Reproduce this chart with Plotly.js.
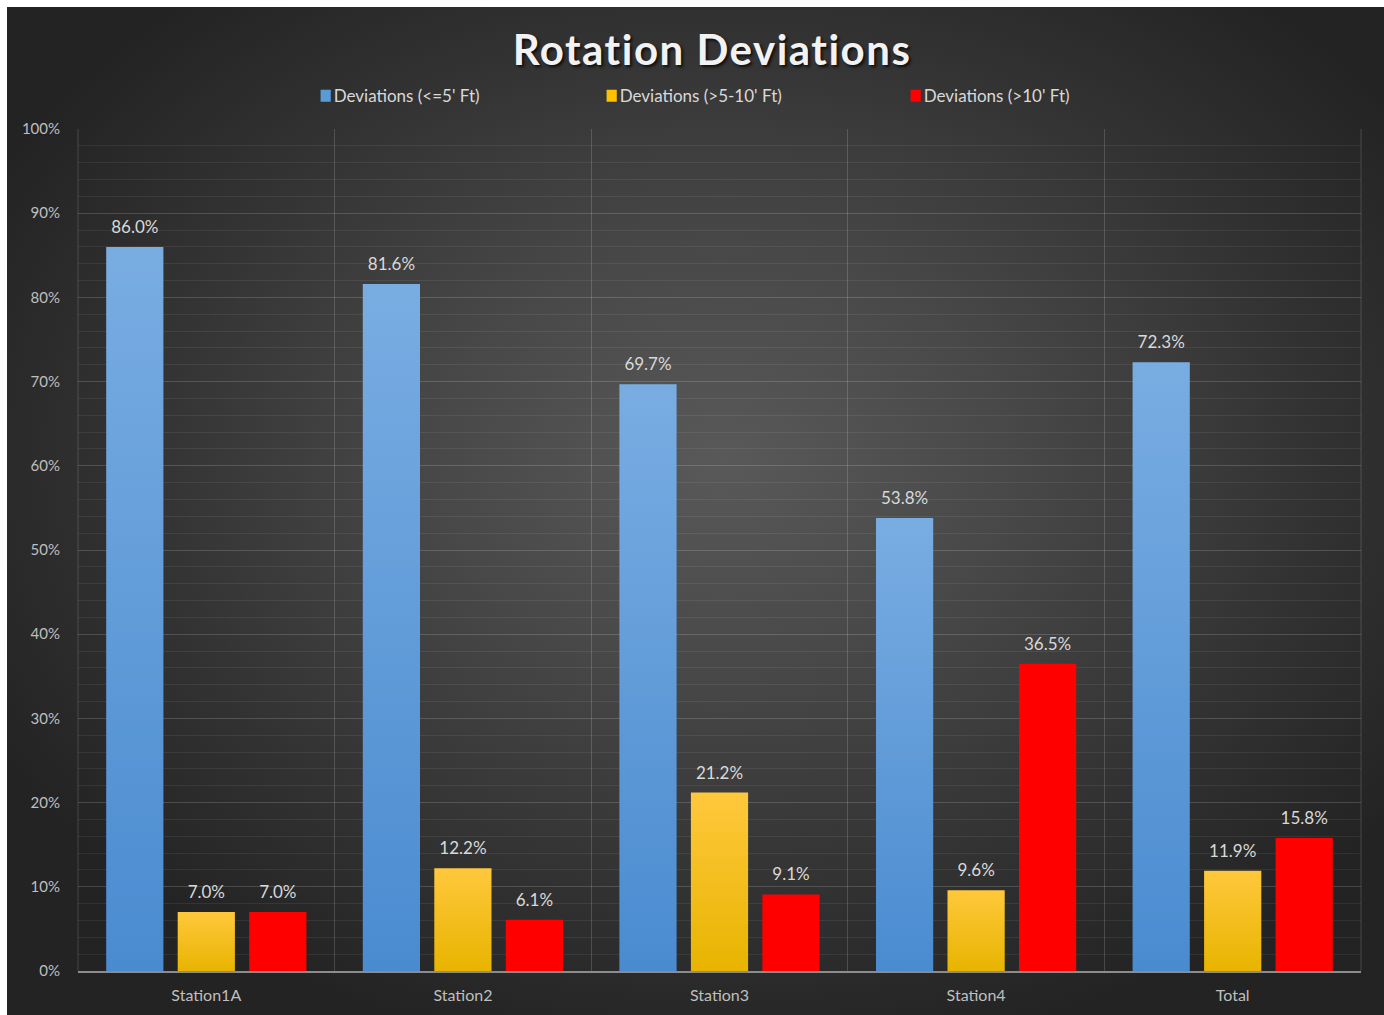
<!DOCTYPE html>
<html>
<head>
<meta charset="utf-8">
<script src="https://cdn.plot.ly/plotly-3.0.1.min.js"></script>
<style>
  html, body { margin: 0; padding: 0; background: #ffffff; }
  #chart {
    position: absolute; left: 7px; top: 7px; width: 1377px; height: 1008px;
    background: radial-gradient(ellipse 60% 60% at 52% 45%, #595959 0%, #484848 35%, #333333 70%, #232323 100%);
  }
  #chart .gtitle {
    text-shadow: 2px 2px 3px rgba(0,0,0,0.75);
    letter-spacing: 1.5px;
    font-variant-ligatures: none;
  }
  #chart text { font-variant-ligatures: none; }
</style>
</head>
<body>
<div id="chart"></div>
<script>
// Categories and series (percent of rotations)
const stations = ['Station1A', 'Station2', 'Station3', 'Station4', 'Total'];
const seriesNames = ["Deviations (<=5' Ft)", "Deviations (>5-10' Ft)", "Deviations (>10' Ft)"];
const within5 = [86.0, 81.6, 69.7, 53.8, 72.3];
const from5to10 = [7.0, 12.2, 21.2, 9.6, 11.9];
const over10 = [7.0, 6.1, 9.1, 36.5, 15.8];

const baseColors = ['#5b9bd5', '#ffc000', '#ff0000'];
const gradients = [
  ['#79ade2', '#4a8bd0'],
  ['#ffc83c', '#e8b400'],
  ['#ff0000', '#ff0000']
];

const fontFamily = 'Lato, "Open Sans", sans-serif';
const labelFont = { family: fontFamily, size: 17, color: '#d9d9d9' };

function barTrace(name, values, color) {
  return {
    type: 'bar', name: name, x: stations, y: values,
    marker: { color: color, line: { width: 0 } },
    text: values.map(v => v.toFixed(1) + '%'),
    textposition: 'outside', cliponaxis: false,
    textfont: labelFont,
    hoverinfo: 'x+y+name'
  };
}

const data = [
  barTrace(seriesNames[0], within5, baseColors[0]),
  barTrace(seriesNames[1], from5to10, baseColors[1]),
  barTrace(seriesNames[2], over10, baseColors[2])
];

const majorGrid = 'rgba(255,255,255,0.16)';
const minorGrid = 'rgba(255,255,255,0.07)';

const layout = {
  width: 1377, height: 1008,
  paper_bgcolor: 'rgba(0,0,0,0)', plot_bgcolor: 'rgba(0,0,0,0)',
  margin: { l: 71, r: 23, t: 122, b: 44 },
  font: { family: fontFamily, color: '#d9d9d9' },
  title: {
    text: '<b>Rotation Deviations</b>',
    font: { family: fontFamily, size: 42, color: '#f2f2f2' },
    x: 0.512, xanchor: 'center', xref: 'container',
    y: 0.957, yanchor: 'middle', yref: 'container'
  },
  showlegend: true,
  legend: {
    orientation: 'h', x: 0.513, xanchor: 'center', y: 1.039, yanchor: 'middle',
    font: { family: fontFamily, size: 17, color: '#d9d9d9' },
    entrywidth: 250, itemwidth: 30, traceorder: 'normal',
    bgcolor: 'rgba(0,0,0,0)'
  },
  barmode: 'group',
  bargap: 0.164,
  bargroupgap: 0.2,
  xaxis: {
    type: 'category',
    range: [-0.5, 4.5],
    showgrid: true, gridcolor: majorGrid, gridwidth: 1,
    tickson: 'boundaries', ticks: '',
    showline: true, linecolor: '#8c8c8c', linewidth: 2,
    tickfont: { family: fontFamily, size: 16, color: '#bfbfbf' },
    ticklabelstandoff: 9,
    zeroline: false, fixedrange: true
  },
  yaxis: {
    range: [0, 100], dtick: 10, tick0: 0,
    ticksuffix: '%',
    showgrid: true, gridcolor: majorGrid, gridwidth: 1,
    minor: { dtick: 2, showgrid: true, gridcolor: minorGrid, gridwidth: 1 },
    tickfont: { family: fontFamily, size: 15, color: '#bfbfbf' },
    ticks: '', ticklabelstandoff: 17,
    showline: false, zeroline: false, fixedrange: true
  },
  shapes: [
    // plot-area side edges
    { type: 'line', xref: 'paper', yref: 'paper', x0: 0, x1: 0, y0: 0, y1: 1, line: { color: majorGrid, width: 1 } },
    { type: 'line', xref: 'paper', yref: 'paper', x0: 1, x1: 1, y0: 0, y1: 1, line: { color: majorGrid, width: 1 } }
  ]
};

// Vertical shading on the bars, a little more air above the value labels,
// and legend swatches set right next to their text
function finishDrawing(gd) {
  const svg = gd.querySelector('svg.main-svg');
  const ns = 'http://www.w3.org/2000/svg';
  let defs = svg.querySelector('defs');
  if (!defs) { defs = document.createElementNS(ns, 'defs'); svg.insertBefore(defs, svg.firstChild); }
  gradients.forEach((stops, i) => {
    const lg = document.createElementNS(ns, 'linearGradient');
    lg.setAttribute('id', 'barShade' + i);
    lg.setAttribute('x1', '0'); lg.setAttribute('y1', '0');
    lg.setAttribute('x2', '0'); lg.setAttribute('y2', '1');
    const s0 = document.createElementNS(ns, 'stop');
    s0.setAttribute('offset', '0'); s0.setAttribute('stop-color', stops[0]);
    const s1 = document.createElementNS(ns, 'stop');
    s1.setAttribute('offset', '1'); s1.setAttribute('stop-color', stops[1]);
    lg.appendChild(s0); lg.appendChild(s1);
    defs.appendChild(lg);
  });
  const traces = gd.querySelectorAll('.barlayer .trace.bars');
  traces.forEach((tr, i) => {
    tr.querySelectorAll('.point path').forEach(p => {
      p.style.fill = 'url(#barShade' + i + ')';
    });
    tr.querySelectorAll('.bartext').forEach(t => {
      const prev = t.getAttribute('transform') || '';
      t.setAttribute('transform', 'translate(0,-7) ' + prev);
    });
  });
  gd.querySelectorAll('.legend .legendpoints').forEach(g => {
    g.setAttribute('transform', 'translate(12,0)');
  });
  gd.querySelectorAll('.legend .legendpoints path').forEach(p => {
    const prev = p.getAttribute('transform') || '';
    p.setAttribute('transform', prev + ' scale(0.85,1)');
  });
  // pull the middle legend entry slightly left
  const items = gd.querySelectorAll('.legend .traces');
  if (items.length === 3) {
    const prev = items[1].getAttribute('transform') || '';
    items[1].setAttribute('transform', 'translate(-9,0) ' + prev);
  }
}

Plotly.newPlot('chart', data, layout, { displayModeBar: false, responsive: false })
  .then(finishDrawing);
</script>
</body>
</html>
